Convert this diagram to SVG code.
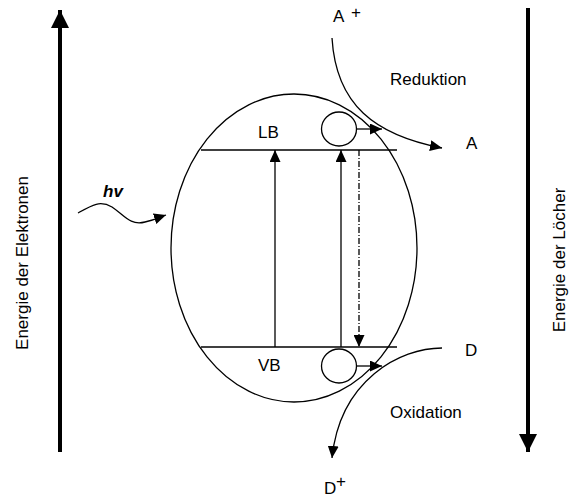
<svg xmlns="http://www.w3.org/2000/svg" width="573" height="498" viewBox="0 0 573 498">
<defs>
<marker id="ah" viewBox="0 0 12 11" refX="12" refY="5.5" markerWidth="12" markerHeight="11" markerUnits="userSpaceOnUse" orient="auto"><path d="M0,0 L12,5.5 L0,11 Z" fill="#000"/></marker>
<marker id="big" viewBox="0 0 18 18" refX="18" refY="9" markerWidth="18" markerHeight="18" markerUnits="userSpaceOnUse" orient="auto"><path d="M0,0 L18,9 L0,18 Z" fill="#000"/></marker>
</defs>
<style>
.t{font-family:"Liberation Sans",Arial,sans-serif;font-size:17px;fill:#000}
.l{fill:none;stroke:#000;stroke-width:1.3}
.ax{fill:none;stroke:#000;stroke-width:4}
</style>
<rect width="573" height="498" fill="#fff"/>
<g id="axis-left">
<line class="ax" x1="60" y1="452" x2="60" y2="10" marker-end="url(#big)"/>
<text class="t" transform="translate(28,263) rotate(-90)" text-anchor="middle" font-size="16">Energie der Elektronen</text>
</g>
<g id="axis-right">
<line class="ax" x1="528" y1="8" x2="528" y2="452" marker-end="url(#big)"/>
<text class="t" transform="translate(565,260) rotate(-90)" text-anchor="middle">Energie der Löcher</text>
</g>
<g id="particle">
<ellipse class="l" cx="294" cy="248" rx="123" ry="154"/>
<line class="l" x1="201" y1="150" x2="397" y2="150"/>
<line class="l" x1="201" y1="347" x2="397" y2="347"/>
<text class="t" x="258" y="138">LB</text>
<text class="t" x="258" y="371">VB</text>
</g>
<g id="electron">
<ellipse class="l" cx="339" cy="129" rx="17.5" ry="17"/>
</g>
<g id="hole">
<ellipse class="l" cx="339" cy="366" rx="17.5" ry="17"/>
</g>
<g id="labels">
<text class="t" x="333" y="22" font-size="14">A</text>
<text class="t" x="351" y="18" font-size="10">+</text>
<text class="t" x="390" y="85">Reduktion</text>
<text class="t" x="466" y="149">A</text>
<text class="t" x="465" y="356">D</text>
<text class="t" x="390" y="418">Oxidation</text>
<text class="t" x="324" y="494">D</text>
<text class="t" x="336" y="487" font-size="10">+</text>
<text class="t" x="103" y="197" font-weight="bold" font-style="italic">hv</text>
</g>
<g id="connectors">
<line class="l" x1="275" y1="347" x2="275" y2="150" marker-end="url(#ah)"/>
<line class="l" x1="341" y1="347" x2="341" y2="150" marker-end="url(#ah)"/>
<line class="l" x1="359" y1="150" x2="359" y2="347" stroke-dasharray="6,2,1,2" marker-end="url(#ah)"/>
<line class="l" x1="357" y1="129" x2="382" y2="129" marker-end="url(#ah)"/>
<line class="l" x1="357" y1="366" x2="382" y2="366" marker-end="url(#ah)"/>
<path class="l" d="M332,38 C336,105 375,135 442,148" marker-end="url(#ah)"/>
<path class="l" d="M442,348 C400,348 340,380 332,458" marker-end="url(#ah)"/>
<path class="l" d="M78,213 C92,205 100,200 112,207 C124,215 130,226 145,222 C155,220 160,217 166,215" marker-end="url(#ah)"/>
</g>
</svg>
